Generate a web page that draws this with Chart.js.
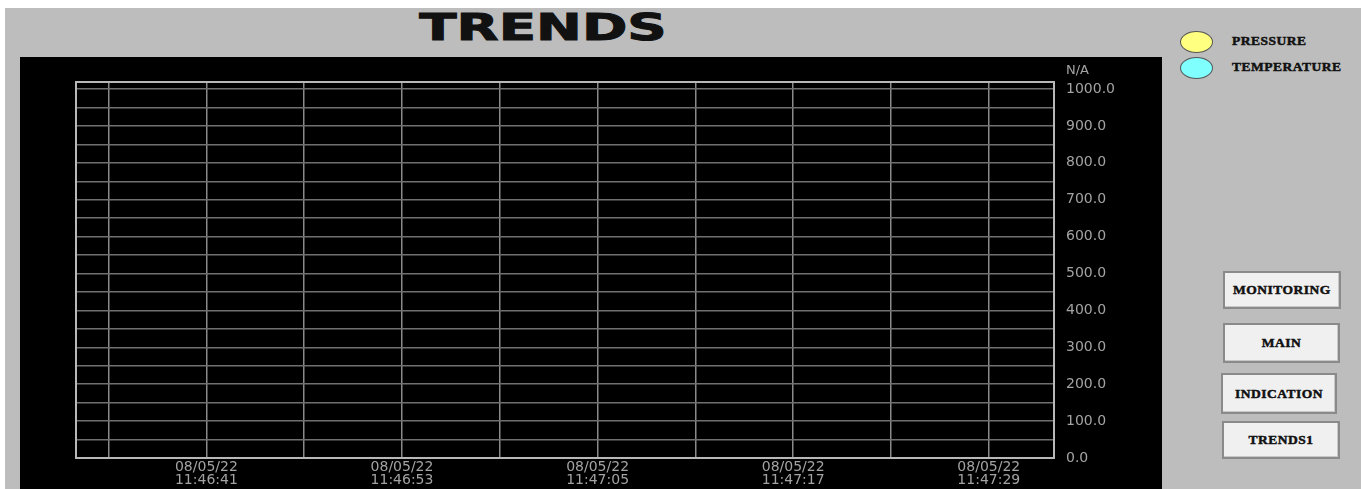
<!DOCTYPE html>
<html>
<head>
<meta charset="utf-8">
<title>TRENDS</title>
<script src="https://cdn.jsdelivr.net/npm/chart.js@4.4.1/dist/chart.umd.min.js"></script>
<style>
  html, body { margin: 0; padding: 0; background: #fff; }
  body { width: 1361px; height: 489px; position: relative; overflow: hidden; }
  #panel { position: absolute; left: 5px; top: 8px; width: 1356px; height: 481px; background: #bdbdbd; }
  #title {
    position: absolute; left: 443px; top: 8px; width: 200px; text-align: center;
    font: bold 38px "DejaVu Sans", sans-serif; line-height: 38px; color: #111;
    -webkit-text-stroke: 1px #111;
    transform: scaleX(1.44); transform-origin: center;
  }
  #plotBox { position: absolute; left: 20px; top: 57px; width: 1142px; height: 432px; background: #000; }
  .legendItem { position: absolute; left: 1180px; height: 22px; }
  .legendItem .dot {
    position: absolute; left: 0; top: 0; width: 31px; height: 20px; border-radius: 50%;
    border: 1px solid #555;
  }
  .legendItem .txt {
    position: absolute; left: 52px; top: 2px; white-space: nowrap;
    font: bold 13.5px "Liberation Serif", serif; color: #111; letter-spacing: 0.5px;
    -webkit-text-stroke: 0.5px #111;
  }
  .btn {
    position: absolute; box-sizing: border-box; background: #f0f0f0;
    border: 2px solid #8a8a8a; box-shadow: inset -1px -1px 0 #c8c8c8;
    font: bold 13.5px "Liberation Serif", serif; color: #111; letter-spacing: 0.5px;
    -webkit-text-stroke: 0.5px #111;
    display: flex; align-items: center; justify-content: center;
  }
</style>
</head>
<body>
<div id="panel"></div>
<div id="title">TRENDS</div>
<div id="plotBox"><canvas id="trendChart"></canvas></div>
<div id="legend"></div>
<div id="buttons"></div>

<script>
// ---- data ----
const seriesNames = ["PRESSURE", "TEMPERATURE"];
const seriesColors = ["#ffff80", "#80ffff"];
const pressure = [];      // no samples recorded in the window
const temperature = [];

const dateLabel = "08/05/22";
// seconds after 11:46:00
const gridSeconds = [35, 41, 47, 53, 59, 65, 71, 77, 83, 89];
const timeLabels = ["", "11:46:41", "", "11:46:53", "", "11:47:05", "", "11:47:17", "", "11:47:29"];
const xMin = 33, xMax = 93;

const yTickValues = [0, 50, 100, 150, 200, 250, 300, 350, 400, 450, 500,
  550, 600, 650, 700, 750, 800, 850, 900, 950, 1000];
const yMax = 1019;
const yUnit = "N/A";

const buttonNames = ["MONITORING", "MAIN", "INDICATION", "TRENDS1"];

// ---- legend + buttons (HMI panel) ----
const legendTops = [31, 57];
const legendEl = document.getElementById("legend");
seriesNames.forEach((name, i) => {
  const item = document.createElement("div");
  item.className = "legendItem";
  item.style.top = legendTops[i] + "px";
  item.innerHTML = '<div class="dot" style="background:' + seriesColors[i] + '"></div><div class="txt">' + name + '</div>';
  legendEl.appendChild(item);
});

const btnBoxes = [[1223, 271, 118, 38], [1223, 323, 117, 40], [1221, 373, 116, 41], [1222, 421, 118, 38]];
const btnEl = document.getElementById("buttons");
buttonNames.forEach((name, i) => {
  const b = document.createElement("div");
  b.className = "btn";
  const [l, t, w, h] = btnBoxes[i];
  b.style.left = l + "px"; b.style.top = t + "px";
  b.style.width = w + "px"; b.style.height = h + "px";
  b.textContent = name;
  btnEl.appendChild(b);
});

// ---- chart ----
const labelColor = "#a3a3a3";

const plotFrame = {
  id: "plotFrame",
  afterDraw(chart) {
    const { ctx, chartArea: a } = chart;
    ctx.save();
    ctx.strokeStyle = "#b8b8b8";
    ctx.lineWidth = 2;
    ctx.strokeRect(a.left, a.top, a.right - a.left, a.bottom - a.top);
    // unit text above the value axis
    ctx.fillStyle = labelColor;
    ctx.font = '13px "DejaVu Sans"';
    ctx.textBaseline = "middle";
    ctx.fillText(yUnit, a.right + 12, 14);
    ctx.restore();
  }
};

new Chart(document.getElementById("trendChart"), {
  type: "line",
  data: {
    datasets: [
      { label: seriesNames[0], data: pressure, borderColor: seriesColors[0], borderWidth: 2, pointRadius: 0 },
      { label: seriesNames[1], data: temperature, borderColor: seriesColors[1], borderWidth: 2, pointRadius: 0 }
    ]
  },
  options: {
    responsive: true,
    maintainAspectRatio: false,
    animation: false,
    layout: { padding: { left: 56, top: 25, right: 0, bottom: 0 } },
    plugins: { legend: { display: false }, tooltip: { enabled: false } },
    scales: {
      x: {
        type: "linear",
        min: xMin,
        max: xMax,
        afterBuildTicks: (s) => { s.ticks = gridSeconds.map((v) => ({ value: v })); },
        afterFit: (s) => { s.height = 31; },
        grid: { color: "#8a8a8a", lineWidth: 1.5, drawTicks: false },
        border: { display: false },
        ticks: {
          autoSkip: false,
          maxRotation: 0,
          padding: 3,
          color: labelColor,
          font: { family: "DejaVu Sans", size: 14, lineHeight: 0.9 },
          callback: (v, i) => (timeLabels[i] ? [dateLabel, timeLabels[i]] : "")
        }
      },
      y: {
        position: "right",
        min: 0,
        max: yMax,
        afterBuildTicks: (s) => { s.ticks = yTickValues.map((v) => ({ value: v })); },
        afterFit: (s) => { s.width = 108; },
        grid: { color: "#707070", lineWidth: 1.5, drawTicks: false },
        border: { display: false },
        ticks: {
          autoSkip: false,
          padding: 12,
          color: labelColor,
          font: { family: "DejaVu Sans", size: 14 },
          callback: (v) => (v % 100 === 0 ? v.toFixed(1) : "")
        }
      }
    }
  },
  plugins: [plotFrame]
});
</script>
</body>
</html>
